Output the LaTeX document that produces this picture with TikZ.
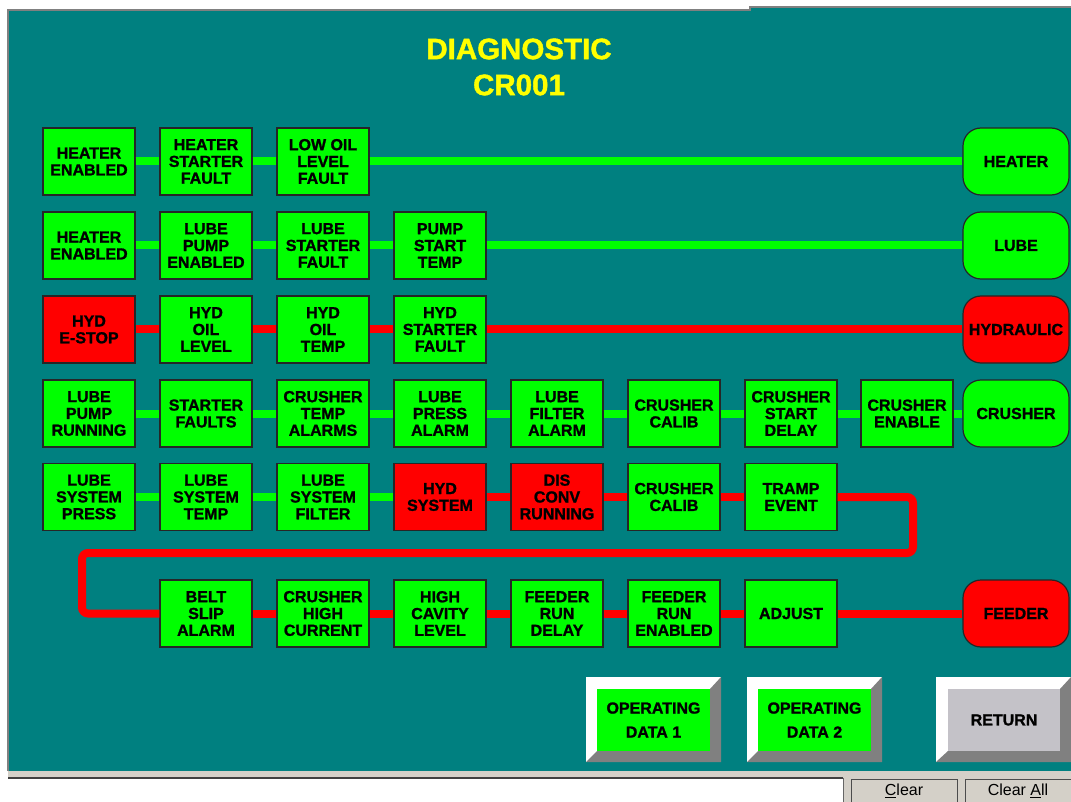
\documentclass[tikz,border=0pt]{standalone}
\usepackage{fontspec}
\setmainfont{Liberation Sans}
\newfontfamily\heavy[FakeBold=1.3]{Liberation Sans}
\definecolor{tealbg}{RGB}{0,128,128}
\definecolor{gon}{RGB}{0,255,0}
\definecolor{ron}{RGB}{255,0,0}
\definecolor{ylw}{RGB}{255,255,0}
\definecolor{bev}{RGB}{128,128,128}
\definecolor{retface}{RGB}{196,194,200}
\definecolor{winbg}{RGB}{212,208,200}
\begin{document}
\begin{tikzpicture}[x=1pt,y=-1pt,
  lbl/.style={font=\heavy\bfseries\fontsize{16}{16.8}\selectfont,align=center,text=black},
  box/.style={lbl,draw=black!85,line width=1.2pt,fill=gon,minimum width=92pt,minimum height=67pt,inner sep=0pt},
  redbox/.style={box,fill=ron},
  pill/.style={lbl,draw=black!85,line width=1.2pt,fill=gon,rounded corners=18pt,minimum width=106pt,minimum height=67pt,inner sep=0pt},
  redpill/.style={pill,fill=ron},
  gline/.style={draw=gon,line width=8pt},
  rline/.style={draw=ron,line width=8pt},
  btnface/.style={lbl,font=\heavy\bfseries\fontsize{16}{24}\selectfont,minimum width=113pt,minimum height=62pt,inner sep=0pt},
  titl/.style={font=\heavy\bfseries\fontsize{29.5}{36}\selectfont,text=ylw,align=center},
  winbtn/.style={draw=black!70,line width=1pt,fill=winbg,minimum width=106pt,minimum height=24pt,inner sep=0pt,font=\fontsize{16}{18}\selectfont}
]
\useasboundingbox (0,0) rectangle (1071,802);
\fill[white] (0,0) rectangle (1071,802);
% screen background
\fill[tealbg] (8,10) -- (750,10) -- (750,7) -- (1071,7) -- (1071,771) -- (8,771) -- cycle;
\draw[bev,line width=1.5pt] (8,771) -- (8,10) -- (750,10) -- (750,7) -- (1071,7);
% bottom status bar
\fill[winbg] (8,771) rectangle (1071,802);
\fill[white] (8,779) rectangle (843,802);
\draw[black!75,line width=1.5pt] (8,778) -- (843,778);
\draw[black!60,line width=1pt] (843,778) -- (843,802);
\node[winbtn] (clr) at (904,791) {\underline{C}lear};
\node[winbtn] (clrall) at (1018,791) {Clear \underline{A}ll};

% title
\node[titl] (title) at (519,67) {DIAGNOSTIC\\CR001};

% row 1
\node[box] (a1) at (89,161.5) {HEATER\\ENABLED};
\node[box] (a2) at (206,161.5) {HEATER\\STARTER\\FAULT};
\node[box] (a3) at (323,161.5) {LOW OIL\\LEVEL\\FAULT};
\node[pill] (pa) at (1016,161.5) {HEATER};
% row 2
\node[box] (b1) at (89,245.5) {HEATER\\ENABLED};
\node[box] (b2) at (206,245.5) {LUBE\\PUMP\\ENABLED};
\node[box] (b3) at (323,245.5) {LUBE\\STARTER\\FAULT};
\node[box] (b4) at (440,245.5) {PUMP\\START\\TEMP};
\node[pill] (pb) at (1016,245.5) {LUBE};
% row 3
\node[redbox] (c1) at (89,329.5) {HYD\\E-STOP};
\node[box] (c2) at (206,329.5) {HYD\\OIL\\LEVEL};
\node[box] (c3) at (323,329.5) {HYD\\OIL\\TEMP};
\node[box] (c4) at (440,329.5) {HYD\\STARTER\\FAULT};
\node[redpill] (pc) at (1016,329.5) {HYDRAULIC};
% row 4
\node[box] (d1) at (89,413.5) {LUBE\\PUMP\\RUNNING};
\node[box] (d2) at (206,413.5) {STARTER\\FAULTS};
\node[box] (d3) at (323,413.5) {CRUSHER\\TEMP\\ALARMS};
\node[box] (d4) at (440,413.5) {LUBE\\PRESS\\ALARM};
\node[box] (d5) at (557,413.5) {LUBE\\FILTER\\ALARM};
\node[box] (d6) at (674,413.5) {CRUSHER\\CALIB};
\node[box] (d7) at (791,413.5) {CRUSHER\\START\\DELAY};
\node[box] (d8) at (907,413.5) {CRUSHER\\ENABLE};
\node[pill] (pd) at (1016,413.5) {CRUSHER};
% row 5
\node[box] (e1) at (89,497) {LUBE\\SYSTEM\\PRESS};
\node[box] (e2) at (206,497) {LUBE\\SYSTEM\\TEMP};
\node[box] (e3) at (323,497) {LUBE\\SYSTEM\\FILTER};
\node[redbox] (e4) at (440,497) {HYD\\SYSTEM};
\node[redbox] (e5) at (557,497) {DIS\\CONV\\RUNNING};
\node[box] (e6) at (674,497) {CRUSHER\\CALIB};
\node[box] (e7) at (791,497) {TRAMP\\EVENT};
% row 6
\node[box] (f2) at (206,613.5) {BELT\\SLIP\\ALARM};
\node[box] (f3) at (323,613.5) {CRUSHER\\HIGH\\CURRENT};
\node[box] (f4) at (440,613.5) {HIGH\\CAVITY\\LEVEL};
\node[box] (f5) at (557,613.5) {FEEDER\\RUN\\DELAY};
\node[box] (f6) at (674,613.5) {FEEDER\\RUN\\ENABLED};
\node[box] (f7) at (791,613.5) {ADJUST};
\node[redpill] (pf) at (1016,613.5) {FEEDER};

% connectors
\draw[gline] (a1.east) -- (a2.west);
\draw[gline] (a2.east) -- (a3.west);
\draw[gline] (a3.east) -- (pa.west);
\draw[gline] (b1.east) -- (b2.west);
\draw[gline] (b2.east) -- (b3.west);
\draw[gline] (b3.east) -- (b4.west);
\draw[gline] (b4.east) -- (pb.west);
\draw[rline] (c1.east) -- (c2.west);
\draw[rline] (c2.east) -- (c3.west);
\draw[rline] (c3.east) -- (c4.west);
\draw[rline] (c4.east) -- (pc.west);
\draw[gline] (d1.east) -- (d2.west);
\draw[gline] (d2.east) -- (d3.west);
\draw[gline] (d3.east) -- (d4.west);
\draw[gline] (d4.east) -- (d5.west);
\draw[gline] (d5.east) -- (d6.west);
\draw[gline] (d6.east) -- (d7.west);
\draw[gline] (d7.east) -- (d8.west);
\draw[gline] (d8.east) -- (pd.west);
\draw[gline] (e1.east) -- (e2.west);
\draw[gline] (e2.east) -- (e3.west);
\draw[gline] (e3.east) -- (e4.west);
\draw[rline] (e4.east) -- (e5.west);
\draw[rline] (e5.east) -- (e6.west);
\draw[rline] (e6.east) -- (e7.west);
\coordinate (bendR) at (913,553);
\coordinate (bendL) at (82,553);
\draw[rline,rounded corners=6pt] (e7.east) -| (bendR) -- (bendL) |- (f2.west);
\draw[rline] (f2.east) -- (f3.west);
\draw[rline] (f3.east) -- (f4.west);
\draw[rline] (f4.east) -- (f5.west);
\draw[rline] (f5.east) -- (f6.west);
\draw[rline] (f6.east) -- (f7.west);
\draw[rline] (f7.east) -- (pf.west);

% buttons
\fill[white] (586,677) rectangle (721,762);
\fill[bev] (586,762) -- (597,751) -- (710,751) -- (710,689) -- (721,677) -- (721,762) -- cycle;
\node[btnface,fill=gon] (od1) at (653.5,720) {OPERATING\\DATA 1};
\fill[white] (747,677) rectangle (882,762);
\fill[bev] (747,762) -- (758,751) -- (871,751) -- (871,689) -- (882,677) -- (882,762) -- cycle;
\node[btnface,fill=gon] (od2) at (814.5,720) {OPERATING\\DATA 2};
\fill[white] (936,677) rectangle (1071,762);
\fill[bev] (936,762) -- (948,751) -- (1060,751) -- (1060,689) -- (1071,677) -- (1071,762) -- cycle;
\node[btnface,fill=retface,minimum width=112pt] (ret) at (1004,720) {RETURN};
\end{tikzpicture}
\end{document}
